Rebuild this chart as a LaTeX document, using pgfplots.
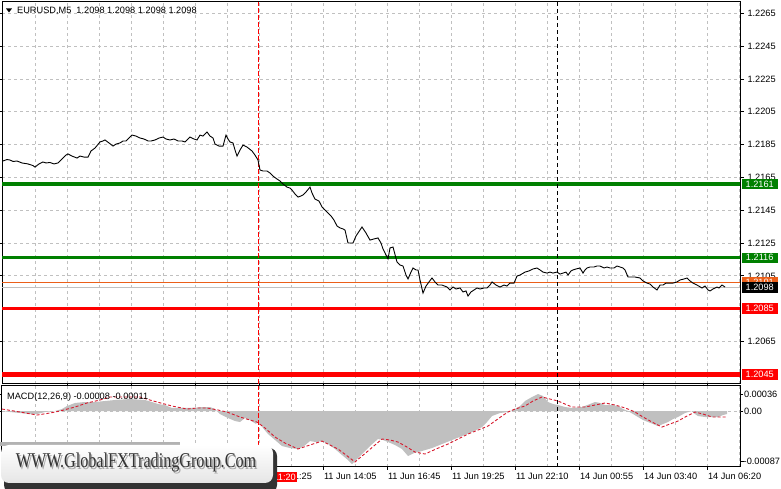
\documentclass[border=0pt]{standalone}
\usepackage{fontspec}
\setmainfont{Liberation Sans}
\newfontfamily\wmfont[FakeStretch=0.77]{Liberation Serif}
\usepackage{pgfplots}
\pgfplotsset{compat=1.18}

\definecolor{mtgreen}{RGB}{0,128,0}
\definecolor{mtred}{RGB}{255,0,0}
\definecolor{mtorange}{RGB}{235,95,25}
\definecolor{gridc}{RGB}{192,192,192}
\definecolor{histc}{RGB}{192,192,192}
\definecolor{sigc}{RGB}{215,25,45}

\pgfplotsset{
  mtpanel/.style={
    scale only axis, width=738pt, xmin=2, xmax=740,
    axis line style={black, line width=1pt},
    grid style={gridc, line width=0.8pt, dash pattern=on 3pt off 3pt},
    tick align=outside, major tick length=4pt,
    tick style={black, line width=0.8pt},
    yticklabel pos=right,
    scaled y ticks=false,
    tick label style={font=\fontsize{9.2}{11}\selectfont},
    y tick label style={anchor=west},
    clip mode=individual,
  },
}

\begin{document}
\begin{tikzpicture}[font=\fontsize{9.2}{11}\selectfont]
\path[use as bounding box, fill=white] (0pt,0pt) rectangle (781pt,489pt);

% ---------- price panel ----------
\begin{axis}[mtpanel,
  at={(2pt,105pt)}, anchor=south west, height=382pt,
  ymin=1.20391, ymax=1.22719,
  xtick={35,67,...,739}, xticklabel=\empty, xtick style={draw=none},
  % 1.2085 and 1.2045 sit under their price tags
  ytick={1.2065,1.2105,1.2125,1.2145,1.2165,1.2185,1.2205,1.2225,1.2245,1.2265},
  y tick label style={/pgf/number format/.cd, fixed, precision=4, fixed zerofill, assume math mode=true},
  xmajorgrids, ymajorgrids,
]
% levels
\addplot[mtgreen, line width=4.5pt] coordinates {(2,1.2161) (740,1.2161)};
\addplot[mtgreen, line width=2.8pt] coordinates {(2,1.2116) (740,1.2116)};
\addplot[mtred, line width=2.5pt] coordinates {(2,1.2085) (740,1.2085)};
\addplot[mtred, line width=4.5pt] coordinates {(2,1.2045) (740,1.2045)};
\addplot[mtorange, line width=1pt] coordinates {(2,1.2101) (740,1.2101)};
\addplot[gridc, line width=1pt] coordinates {(2,1.2098) (740,1.2098)};
% vertical markers
\addplot[mtred, line width=1pt, dash pattern=on 5pt off 2pt] coordinates {(258,1.20391) (258,1.22719)};
\addplot[black, line width=1pt, dash pattern=on 4pt off 3pt] coordinates {(557,1.20391) (557,1.22719)};
% close price
\addplot[black, line width=0.9pt] coordinates {
(3,1.21750) (7,1.21759) (10,1.21756) (13,1.21747) (17,1.21750) (22,1.21738)
(28,1.21732) (33,1.21722) (35,1.21713) (39,1.21732) (43,1.21744) (46,1.21738)
(50,1.21741) (54,1.21732) (58,1.21738) (61,1.21756) (63,1.21768) (66,1.21786)
(68,1.21793) (72,1.21780) (77,1.21768) (80,1.21780) (84,1.21774) (88,1.21774)
(91,1.21811) (95,1.21829) (100,1.21866) (103,1.21872) (105,1.21878) (109,1.21860)
(113,1.21841) (116,1.21853) (120,1.21860) (123,1.21872) (126,1.21872) (129,1.21890)
(132,1.21908) (136,1.21902) (140,1.21890) (144,1.21884) (148,1.21872) (151,1.21872)
(155,1.21878) (159,1.21890) (163,1.21896) (166,1.21884) (170,1.21878) (174,1.21884)
(178,1.21872) (182,1.21872) (185,1.21866) (188,1.21884) (190,1.21896) (194,1.21884)
(197,1.21878) (200,1.21908) (203,1.21902) (207,1.21927) (210,1.21902) (213,1.21890)
(215,1.21853) (219,1.21841) (223,1.21841) (226,1.21908) (228,1.21884) (230,1.21866)
(233,1.21860) (235,1.21817) (237,1.21780) (240,1.21817) (243,1.21847) (247,1.21835)
(252,1.21811) (255,1.21786) (258,1.21756) (260,1.21695) (263,1.21689) (267,1.21689)
(270,1.21677) (273,1.21658) (277,1.21640) (280,1.21628) (283,1.21610) (287,1.21591)
(290,1.21585) (292,1.21573) (295,1.21549) (298,1.21530) (301,1.21537) (303,1.21543)
(306,1.21561) (310,1.21591) (312,1.21555) (315,1.21518) (319,1.21506) (322,1.21470)
(325,1.21451) (328,1.21433) (331,1.21415) (334,1.21390) (337,1.21354) (340,1.21342)
(343,1.21336) (345,1.21329) (348,1.21250) (353,1.21250) (356,1.21293) (362,1.21348)
(366,1.21311) (370,1.21268) (374,1.21275) (378,1.21281) (381,1.21250) (383,1.21214)
(386,1.21177) (388,1.21153) (390,1.21220) (393,1.21226) (397,1.21134) (400,1.21116)
(403,1.21110) (406,1.21055) (408,1.21031) (411,1.21073) (413,1.21098) (416,1.21086)
(418,1.21086) (420,1.21025) (423,1.20945) (426,1.20988) (429,1.21013) (432,1.21037)
(435,1.21013) (438,1.20994) (442,1.20994) (447,1.20982) (450,1.20964) (453,1.20982)
(456,1.20970) (460,1.20976) (463,1.20952) (466,1.20958) (468,1.20927) (471,1.20952)
(474,1.20964) (477,1.20976) (480,1.20970) (484,1.20976) (487,1.20976) (490,1.20994)
(492,1.21013) (496,1.20994) (500,1.20982) (504,1.20994) (507,1.20988) (510,1.21006)
(514,1.21006) (517,1.21049) (520,1.21055) (525,1.21073) (529,1.21080) (533,1.21092)
(537,1.21098) (540,1.21086) (543,1.21073) (547,1.21067) (550,1.21073) (553,1.21067)
(557,1.21073) (560,1.21061) (563,1.21067) (566,1.21073) (568,1.21055) (571,1.21080)
(573,1.21086) (576,1.21092) (580,1.21098) (583,1.21067) (585,1.21086) (587,1.21098)
(590,1.21104) (594,1.21104) (597,1.21110) (600,1.21110) (604,1.21098) (607,1.21104)
(610,1.21098) (614,1.21098) (617,1.21110) (620,1.21104) (623,1.21098) (625,1.21086)
(628,1.21043) (631,1.21043) (635,1.21043) (640,1.21037) (643,1.21019) (647,1.21006)
(650,1.21000) (653,1.20982) (657,1.20964) (660,1.20994) (663,1.20994) (666,1.21006)
(670,1.21006) (673,1.21006) (677,1.21013) (680,1.21025) (684,1.21031) (687,1.21037)
(690,1.21019) (693,1.21006) (697,1.20994) (702,1.20976) (705,1.20988) (708,1.20964)
(710,1.20958) (713,1.20970) (717,1.20982) (719,1.20976) (722,1.20994) (725,1.20982)
};
\coordinate (l2161) at (axis cs:740,1.2161);
\coordinate (l2116) at (axis cs:740,1.2116);
\coordinate (l2101) at (axis cs:740,1.2101);
\coordinate (l2098) at (axis cs:740,1.2098);
\coordinate (l2085) at (axis cs:740,1.2085);
\coordinate (l2045) at (axis cs:740,1.2045);
\end{axis}

% ---------- MACD panel ----------
\begin{axis}[mtpanel,
  at={(2pt,22pt)}, anchor=south west, height=81pt,
  ymin=-0.00085, ymax=0.00038,
  xtick={67,131,195,259,323,387,451,515,579,643,707},
  xticklabels={11 Jun 03:25,11 Jun 06:05,11 Jun 08:45,11 Jun 11:25,11 Jun 14:05,11 Jun 16:45,11 Jun 19:25,11 Jun 22:10,14 Jun 00:55,14 Jun 03:40,14 Jun 06:20},
  minor xtick={35,99,163,227,291,355,419,483,547,611,675,739},
  minor tick length=0pt,
  major tick length=3pt,
  x tick label style={anchor=north west, xshift=-2.5pt},
  ytick={0,0.000258},
  yticklabels={0.00,0.00036},
  y tick label style={xshift=-2.5pt},
  xmajorgrids, xminorgrids,
]
\addplot[gridc, line width=0.8pt, dash pattern=on 3pt off 3pt] coordinates {(2,0) (740,0)};
\addplot[fill=histc, draw=none] coordinates {
(2,0) (10,-0.000015) (20,-0.000030) (30,-0.000046) (37,-0.000046) (45,-0.000015)
(55,0) (62,0.000030) (67,0.000076) (75,0.000122) (85,0.000137) (95,0.000137)
(105,0.000152) (115,0.000167) (130,0.000182) (145,0.000167) (152,0.000137) (158,0.000106)
(165,0.000091) (172,0.000046) (185,0.000046) (195,0.000046) (200,0.000061) (210,0.000061)
(215,0.000030) (220,-0.000046) (228,-0.000106) (235,-0.000152) (240,-0.000167) (245,-0.000106)
(250,-0.000137) (256,-0.000197) (258,-0.000152) (263,-0.000258) (268,-0.000349) (275,-0.000440)
(282,-0.000532) (290,-0.000562) (298,-0.000577) (304,-0.000532) (310,-0.000456) (316,-0.000471)
(322,-0.000456) (328,-0.000501) (335,-0.000577) (342,-0.000668) (348,-0.000744) (352,-0.000805)
(356,-0.000744) (362,-0.000653) (370,-0.000532) (378,-0.000425) (383,-0.000440) (388,-0.000471)
(395,-0.000516) (402,-0.000577) (408,-0.000683) (414,-0.000638) (422,-0.000607) (432,-0.000562)
(442,-0.000501) (452,-0.000440) (462,-0.000380) (472,-0.000319) (482,-0.000243) (487,-0.000167)
(492,-0.000076) (500,-0.000030) (508,-0.000015) (515,0.000030) (520,0.000076) (525,0.000152)
(532,0.000213) (538,0.000258) (543,0.000228) (548,0.000137) (553,0.000106) (558,0.000091)
(565,0.000061) (572,0.000046) (582,0.000061) (590,0.000106) (595,0.000137) (600,0.000122)
(605,0.000091) (612,0.000091) (618,0.000076) (623,0.000030) (628,0) (633,-0.000046)
(638,-0.000091) (643,-0.000137) (648,-0.000167) (653,-0.000197) (658,-0.000228) (663,-0.000197)
(668,-0.000167) (673,-0.000122) (678,-0.000091) (685,-0.000030) (692,0) (695,-0.000046)
(698,-0.000076) (705,-0.000091) (712,-0.000091) (718,-0.000091) (723,-0.000061) (727,-0.000046)
(727,0)
} \closedcycle;
\addplot[sigc, line width=0.9pt, dash pattern=on 3pt off 2pt] coordinates {
(2,0.000030) (20,-0.000015) (37,-0.000061) (50,-0.000030) (60,0) (75,0.000061)
(87,0.000122) (100,0.000167) (110,0.000213) (125,0.000213) (140,0.000213) (150,0.000167)
(157,0.000137) (172,0.000076) (187,0.000030) (197,0.000046) (207,0.000046) (218,0.000015)
(227,-0.000015) (240,-0.000091) (250,-0.000137) (257,-0.000167) (265,-0.000258) (275,-0.000395)
(285,-0.000486) (298,-0.000577) (310,-0.000516) (322,-0.000456) (330,-0.000516) (338,-0.000577)
(346,-0.000668) (355,-0.000774) (362,-0.000683) (368,-0.000607) (375,-0.000516) (382,-0.000425)
(390,-0.000440) (398,-0.000471) (407,-0.000547) (415,-0.000623) (425,-0.000653) (436,-0.000577)
(448,-0.000501) (458,-0.000425) (468,-0.000349) (478,-0.000289) (488,-0.000228) (495,-0.000152)
(502,-0.000076) (508,-0.000015) (515,0.000030) (525,0.000076) (533,0.000152) (542,0.000213)
(550,0.000182) (558,0.000152) (565,0.000106) (572,0.000061) (585,0.000061) (595,0.000091)
(605,0.000122) (615,0.000091) (622,0.000061) (628,0.000030) (635,-0.000015) (643,-0.000091)
(652,-0.000167) (662,-0.000243) (670,-0.000197) (678,-0.000152) (687,-0.000076) (695,-0.000015)
(703,-0.000046) (712,-0.000091) (720,-0.000091) (727,-0.000091)
};
\addplot[mtred, line width=1pt, dash pattern=on 5pt off 2pt] coordinates {(258,-0.00085) (258,0.00038)};
\addplot[black, line width=1pt, dash pattern=on 4pt off 3pt] coordinates {(557,-0.00085) (557,0.00038)};
\end{axis}

% ---------- texts and price tags ----------
\draw[black, line width=0.8pt] (740pt,28pt) -- (744pt,28pt);
\node[anchor=west, inner sep=0pt, text=black] at (743.5pt,28pt) {-0.00087};
\fill (6pt,480.5pt) -- (12pt,480.5pt) -- (9pt,476.5pt) -- cycle;
\node[anchor=west, inner sep=0pt] at (17pt,478.3pt) {EURUSD,M5\ \ 1.2098 1.2098 1.2098 1.2098};
\node[anchor=west, inner sep=0pt] at (7pt,92pt) {MACD(12,26,9) -0.00008 -0.00011};

\tikzset{tag/.style={anchor=west, text=white, inner sep=0pt, minimum width=36pt, minimum height=10.5pt, xshift=1.5pt}}
\node[tag, fill=mtgreen] at (l2161) {1.2161};
\node[tag, fill=mtgreen] at (l2116) {1.2116};
\node[tag, fill=mtorange] at (l2101) {1.2101};
\node[tag, fill=black] at (l2098) {1.2098};
\node[tag, fill=mtred] at (l2085) {1.2085};
\node[tag, fill=mtred] at (l2045) {1.2045};
\node[anchor=east, fill=mtred, text=white, inner xsep=1pt, inner ysep=1.5pt] at (297pt,12pt) {11 Jun 11:20};

% ---------- watermark ----------
\fill[gray!60] (0pt,43pt) rectangle (180pt,47pt);
\fill[black!80, rounded corners=8pt] (4pt,-4pt) rectangle (277pt,41pt);
\shade[top color=white, bottom color=black!10, rounded corners=8pt] (1pt,6pt) rectangle (273pt,44pt);
\node[text=black!35] at (137.5pt,24.8pt) {\wmfont\fontsize{21}{21}\selectfont WWW.GlobalFXTradingGroup.Com};
\node[text=black!80] at (136pt,26.3pt) {\wmfont\fontsize{21}{21}\selectfont WWW.GlobalFXTradingGroup.Com};
\end{tikzpicture}
\end{document}
